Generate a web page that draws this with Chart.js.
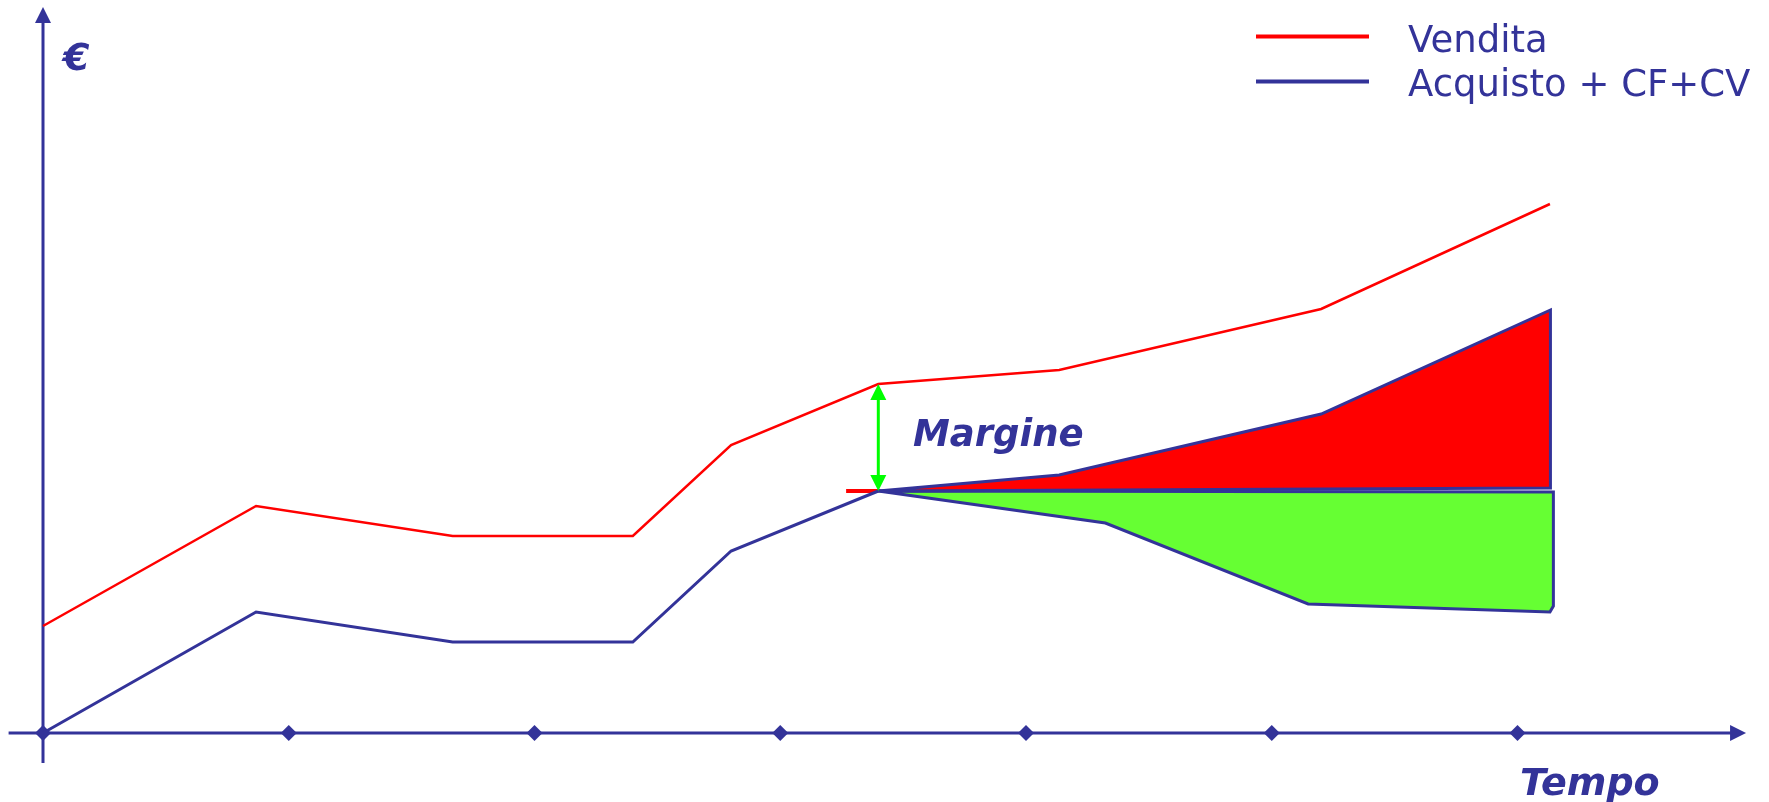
<!DOCTYPE html>
<html>
<head>
<meta charset="utf-8">
<script src="https://cdn.jsdelivr.net/npm/chart.js@4/dist/chart.umd.min.js"></script>
<style>
  html, body { margin: 0; padding: 0; background: #ffffff; }
  #wrap { width: 1769px; height: 802px; }
</style>
</head>
<body>
<div id="wrap"><canvas id="grafico" width="1769" height="802"></canvas></div>
<script>
// Serie
const seriesNames = ['Vendita', 'Acquisto + CF+CV'];
const timeTicks = [0, 1, 2, 3, 4, 5, 6];
const yAxisTitle = '€';
const xAxisTitle = 'Tempo';
const marginLabel = 'Margine';

// Prezzo di vendita
const venditaX = [0, 0.867, 1.667, 2.4, 2.8, 3.399, 4.135, 5.201, 6.132];
const venditaY = [10.7, 22.7, 19.7, 19.7, 28.8, 34.9, 36.3, 42.4, 52.9];

// Costo di acquisto + costi fissi + costi variabili
const acquistoX = [0, 0.867, 1.667, 2.4, 2.8, 3.399];
const acquistoY = [0, 12.1, 9.1, 9.1, 18.2, 24.2];

// Scenario costi in aumento (area rossa)
const aumentoX = [3.399, 4.135, 5.201, 6.134, 6.134, 3.399];
const aumentoY = [24.2, 25.8, 31.9, 42.3, 24.5, 24.2];

// Scenario costi in riduzione (area verde)
const riduzioneX = [3.399, 4.323, 5.148, 6.132, 6.146, 6.146, 3.399];
const riduzioneY = [24.2, 21.0, 12.9, 12.1, 12.7, 24.1, 24.2];

// Livello di riferimento dei costi
const livelloX = [3.268, 3.399];
const livelloY = [24.2, 24.2];

// Punto in cui si misura il margine (indice nelle serie)
const marginIndex = 5;

const BLUE = '#333399';
const RED = '#ff0000';
const GREEN_FILL = '#66ff33';
const GREEN_ARROW = '#00ff00';

const toPoints = (xs, ys) => xs.map((x, i) => ({ x: x, y: ys[i] }));

const lineBase = { pointRadius: 0, pointHoverRadius: 0, tension: 0, clip: false, borderJoinStyle: 'miter' };

// Assi cartesiani con frecce e marcatori a rombo
const assiPlugin = {
  id: 'assi',
  beforeDatasetsDraw(chart) {
    const ctx = chart.ctx;
    const xs = chart.scales.x, ys = chart.scales.y;
    const x0 = xs.getPixelForValue(0);
    const y0 = ys.getPixelForValue(0);
    ctx.save();
    ctx.strokeStyle = BLUE;
    ctx.fillStyle = BLUE;
    ctx.lineWidth = 3;

    // asse verticale
    const yTop = ys.getPixelForValue(72.6);
    const yBottom = ys.getPixelForValue(-3);
    ctx.beginPath();
    ctx.moveTo(x0, yBottom);
    ctx.lineTo(x0, yTop + 14);
    ctx.stroke();
    ctx.beginPath();
    ctx.moveTo(x0, yTop);
    ctx.lineTo(x0 - 8, yTop + 16);
    ctx.lineTo(x0 + 8, yTop + 16);
    ctx.closePath();
    ctx.fill();

    // asse orizzontale
    const xLeft = xs.getPixelForValue(-0.14);
    const xRight = xs.getPixelForValue(6.93);
    ctx.beginPath();
    ctx.moveTo(xLeft, y0);
    ctx.lineTo(xRight - 14, y0);
    ctx.stroke();
    ctx.beginPath();
    ctx.moveTo(xRight, y0);
    ctx.lineTo(xRight - 16, y0 - 8);
    ctx.lineTo(xRight - 16, y0 + 8);
    ctx.closePath();
    ctx.fill();

    // rombi sui tick temporali
    timeTicks.forEach(t => {
      const px = xs.getPixelForValue(t);
      ctx.beginPath();
      ctx.moveTo(px, y0 - 8);
      ctx.lineTo(px + 8, y0);
      ctx.lineTo(px, y0 + 8);
      ctx.lineTo(px - 8, y0);
      ctx.closePath();
      ctx.fill();
    });
    ctx.restore();
  }
};

// Freccia del margine, etichette e legenda
const annotazioniPlugin = {
  id: 'annotazioni',
  afterDatasetsDraw(chart) {
    const ctx = chart.ctx;
    const xs = chart.scales.x, ys = chart.scales.y;
    ctx.save();

    // freccia doppia tra vendita e costi
    const ax = xs.getPixelForValue(venditaX[marginIndex]);
    const aTop = ys.getPixelForValue(venditaY[marginIndex]);
    const aBot = ys.getPixelForValue(acquistoY[marginIndex]);
    const head = 16, half = 8;
    ctx.strokeStyle = GREEN_ARROW;
    ctx.fillStyle = GREEN_ARROW;
    ctx.lineWidth = 3;
    ctx.beginPath();
    ctx.moveTo(ax, aTop + head - 2);
    ctx.lineTo(ax, aBot - head + 2);
    ctx.stroke();
    ctx.beginPath();
    ctx.moveTo(ax, aTop);
    ctx.lineTo(ax - half, aTop + head);
    ctx.lineTo(ax + half, aTop + head);
    ctx.closePath();
    ctx.fill();
    ctx.beginPath();
    ctx.moveTo(ax, aBot);
    ctx.lineTo(ax - half, aBot - head);
    ctx.lineTo(ax + half, aBot - head);
    ctx.closePath();
    ctx.fill();

    // etichette in grassetto corsivo
    ctx.fillStyle = BLUE;
    ctx.textBaseline = 'alphabetic';
    ctx.textAlign = 'left';
    ctx.font = 'italic bold 38px "DejaVu Sans"';
    ctx.fillText(yAxisTitle, 63, 70);
    ctx.font = 'italic bold 37px "DejaVu Sans"';
    ctx.fillText(marginLabel, 913, 446);
    ctx.font = 'italic bold 38px "DejaVu Sans"';
    ctx.fillText(xAxisTitle, 1520, 795);

    // legenda
    const legendRows = [
      { y: 36.5, base: 51.5 },
      { y: 81.5, base: 95.5 }
    ];
    ctx.font = '37px "DejaVu Sans"';
    chart.data.datasets.slice(0, 2).forEach((ds, i) => {
      const row = legendRows[i];
      ctx.strokeStyle = ds.borderColor;
      ctx.lineWidth = 4;
      ctx.beginPath();
      ctx.moveTo(1256, row.y);
      ctx.lineTo(1369, row.y);
      ctx.stroke();
      ctx.fillStyle = BLUE;
      ctx.fillText(ds.label, 1408, row.base);
    });
    ctx.restore();
  }
};

new Chart(document.getElementById('grafico'), {
  type: 'line',
  data: {
    datasets: [
      Object.assign({}, lineBase, {
        label: seriesNames[0],
        data: toPoints(venditaX, venditaY),
        borderColor: RED,
        borderWidth: 2.5,
        fill: false
      }),
      Object.assign({}, lineBase, {
        label: seriesNames[1],
        data: toPoints(acquistoX, acquistoY),
        borderColor: BLUE,
        borderWidth: 3,
        fill: false
      }),
      Object.assign({}, lineBase, {
        label: 'Aumento',
        data: toPoints(aumentoX, aumentoY),
        borderColor: BLUE,
        backgroundColor: RED,
        borderWidth: 3,
        fill: 'shape'
      }),
      Object.assign({}, lineBase, {
        label: 'Riduzione',
        data: toPoints(riduzioneX, riduzioneY),
        borderColor: BLUE,
        backgroundColor: GREEN_FILL,
        borderWidth: 3,
        fill: 'shape'
      }),
      Object.assign({}, lineBase, {
        label: 'Livello',
        data: toPoints(livelloX, livelloY),
        borderColor: RED,
        borderWidth: 4,
        fill: false
      })
    ]
  },
  options: {
    responsive: false,
    devicePixelRatio: 1,
    animation: false,
    events: [],
    layout: { padding: 0 },
    scales: {
      x: { type: 'linear', display: false, min: -0.175, max: 7.0234 },
      y: { type: 'linear', display: false, min: -6.9, max: 73.3 }
    },
    plugins: {
      legend: { display: false },
      tooltip: { enabled: false },
      title: { display: false }
    }
  },
  plugins: [assiPlugin, annotazioniPlugin]
});
</script>
</body>
</html>
